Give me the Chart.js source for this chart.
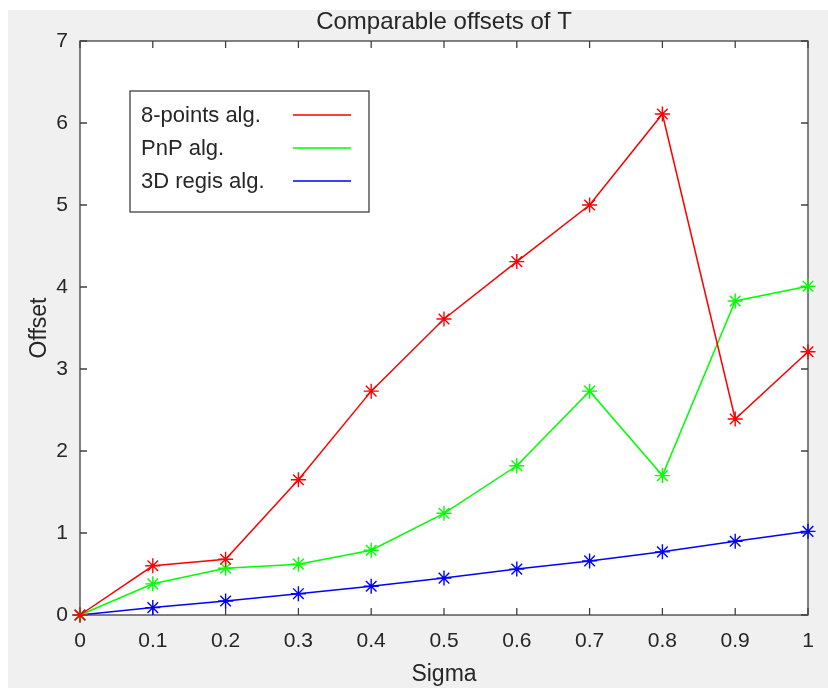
<!DOCTYPE html>
<html>
<head>
<meta charset="utf-8">
<script src="https://cdn.jsdelivr.net/npm/chart.js@4"></script>
<style>
  html, body { margin: 0; padding: 0; background: #fff; }
  #wrap { width: 828px; height: 688px; }
</style>
</head>
<body>
<div id="wrap"><canvas id="c" width="828" height="688"></canvas></div>
<script>
// data
var sigma = [0, 0.1, 0.2, 0.3, 0.4, 0.5, 0.6, 0.7, 0.8, 0.9, 1];
var eightPoints = [0, 0.60, 0.68, 1.65, 2.73, 3.61, 4.31, 5.00, 6.11, 2.39, 3.21];
var pnp = [0, 0.38, 0.57, 0.62, 0.79, 1.24, 1.82, 2.73, 1.70, 3.83, 4.01];
var regis3d = [0, 0.09, 0.17, 0.26, 0.35, 0.45, 0.56, 0.66, 0.77, 0.90, 1.02];
var seriesNames = ['8-points alg.', 'PnP alg.', '3D regis alg.'];
var titleText = 'Comparable offsets of T';

var FONT = "'Liberation Sans', Arial, sans-serif";
var TXT = '#262626';

function pts(arr) {
    return arr.map(function (v, i) { return { x: sigma[i], y: v }; });
}

function makeSet(label, values, color) {
    return {
        label: label,
        data: pts(values),
        borderColor: color,
        backgroundColor: color,
        borderWidth: 1.5,
        pointStyle: 'star',
        pointRadius: 7.5,
        pointBorderWidth: 1.4,
        pointBorderColor: color,
        pointHoverRadius: 7.5,
        tension: 0,
        clip: false
    };
}

// grey figure background + white axes
var backdrop = {
    id: 'backdrop',
    beforeDraw: function (chart) {
        var ctx = chart.ctx, a = chart.chartArea;
        ctx.save();
        ctx.fillStyle = '#ffffff';
        ctx.fillRect(0, 0, chart.width, chart.height);
        ctx.fillStyle = '#f0f0f0';
        ctx.fillRect(8, 10, chart.width - 8, chart.height - 10);
        ctx.fillStyle = '#ffffff';
        ctx.fillRect(a.left, a.top, a.right - a.left, a.bottom - a.top);
        ctx.restore();
    },
    beforeDatasetsDraw: function (chart) {
        var ctx = chart.ctx, a = chart.chartArea;
        var xs = chart.scales.x, ys = chart.scales.y;
        ctx.save();
        ctx.strokeStyle = '#404040';
        ctx.lineWidth = 1.3;
        ctx.strokeRect(a.left, a.top, a.right - a.left, a.bottom - a.top);
        ctx.beginPath();
        xs.ticks.forEach(function (t) {
            var px = xs.getPixelForValue(t.value);
            ctx.moveTo(px, a.bottom); ctx.lineTo(px, a.bottom - 7);
            ctx.moveTo(px, a.top); ctx.lineTo(px, a.top + 7);
        });
        ys.ticks.forEach(function (t) {
            var py = ys.getPixelForValue(t.value);
            ctx.moveTo(a.left, py); ctx.lineTo(a.left + 7, py);
            ctx.moveTo(a.right, py); ctx.lineTo(a.right - 7, py);
        });
        ctx.stroke();
        // title
        ctx.fillStyle = TXT;
        ctx.font = '24px ' + FONT;
        ctx.textAlign = 'center';
        ctx.textBaseline = 'alphabetic';
        ctx.fillText(titleText, (a.left + a.right) / 2, 29);
        ctx.restore();
    },
    afterDraw: function (chart) {
        // matlab style legend box, inside the axes
        var ctx = chart.ctx;
        var bx = 130, by = 91, bw = 239, bh = 121;
        ctx.save();
        ctx.fillStyle = '#ffffff';
        ctx.fillRect(bx, by, bw, bh);
        ctx.strokeStyle = '#404040';
        ctx.lineWidth = 1.3;
        ctx.strokeRect(bx, by, bw, bh);
        ctx.font = '22px ' + FONT;
        ctx.textAlign = 'left';
        ctx.textBaseline = 'middle';
        chart.data.datasets.forEach(function (ds, i) {
            var yy = 115 + i * 33;
            ctx.fillStyle = TXT;
            ctx.fillText(ds.label, 141, yy + 1);
            ctx.strokeStyle = ds.borderColor;
            ctx.lineWidth = 1.5;
            ctx.beginPath();
            ctx.moveTo(293, yy);
            ctx.lineTo(351, yy);
            ctx.stroke();
        });
        ctx.restore();
    }
};

new Chart(document.getElementById('c'), {
    type: 'line',
    data: {
        datasets: [
            makeSet(seriesNames[0], eightPoints, '#ff0000'),
            makeSet(seriesNames[1], pnp, '#00ff00'),
            makeSet(seriesNames[2], regis3d, '#0000ff')
        ]
    },
    options: {
        responsive: false,
        animation: false,
        events: [],
        layout: {
            autoPadding: false,
            padding: { top: 41, right: 20, left: 0, bottom: 0 }
        },
        scales: {
            x: {
                type: 'linear',
                min: 0,
                max: 1,
                grid: { display: false, drawTicks: false },
                border: { display: false },
                ticks: {
                    stepSize: 0.1,
                    padding: 14,
                    color: TXT,
                    font: { family: FONT, size: 21 },
                    callback: function (value) {
                        return Math.round(value * 10) / 10 + '';
                    }
                },
                title: {
                    display: true,
                    text: 'Sigma',
                    color: TXT,
                    font: { family: FONT, size: 23 },
                    padding: { top: 0, bottom: 0 }
                },
                afterFit: function (s) { s.height = 73; }
            },
            y: {
                min: 0,
                max: 7,
                grid: { display: false, drawTicks: false },
                border: { display: false },
                ticks: {
                    stepSize: 1,
                    padding: 12,
                    color: TXT,
                    font: { family: FONT, size: 21 }
                },
                title: {
                    display: true,
                    text: 'Offset',
                    color: TXT,
                    font: { family: FONT, size: 23 },
                    padding: { top: 26, bottom: 0 }
                },
                afterFit: function (s) { s.width = 80; }
            }
        },
        plugins: {
            legend: { display: false },
            title: { display: false },
            tooltip: { enabled: false }
        }
    },
    plugins: [backdrop]
});
</script>
</body>
</html>
